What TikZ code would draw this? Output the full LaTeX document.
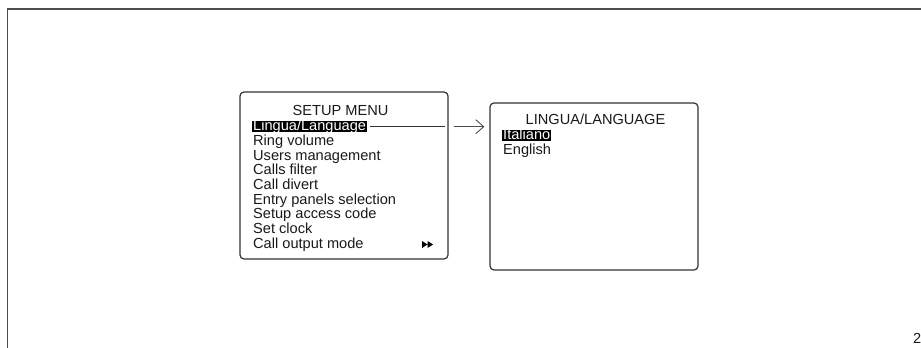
\documentclass[tikz,border=0pt]{standalone}
\usepackage{fontspec}
\setmainfont{Liberation Sans}
\usetikzlibrary{matrix,arrows.meta}

\tikzset{
  panel/.style={draw=black!80,line width=1.2pt,rounded corners=4pt,minimum width=208pt,minimum height=167pt,inner sep=0pt},
  lcd/.style={font=\fontsize{14.6pt}{14.7pt}\selectfont,text=black!90},
  item/.style={lcd,anchor=west,inner xsep=1pt,inner ysep=0pt,text height=9.5pt,text depth=1.5pt},
  picked/.style={fill=black,text=white}
}

\begin{document}
\begin{tikzpicture}[x=1pt,y=-1pt]
  \useasboundingbox (0,0) rectangle (921,348);
  % page frame
  \draw[black!70,line width=1.5pt] (921,9) -- (7.5,9) -- (7.5,348);
  \node[lcd,anchor=base west,inner sep=0pt] (page) at (913,343) {2};

  \node[panel] (setupbox) at (344,175.5) {};
  \node[panel] (langbox) at (594,186.5) {};

  \node[lcd,anchor=base,inner sep=0pt] (setuptitle) at (340.5,115.5) {SETUP MENU};
  \matrix (menu) [matrix of nodes,anchor=north west,inner sep=0pt,row sep=3.7pt,nodes={item}] at (252,121) {
    |[picked]| Lingua/Language \\
    Ring volume \\
    Users management \\
    Calls filter \\
    Call divert \\
    Entry panels selection \\
    Setup access code \\
    Set clock \\
    Call output mode \\};
  \fill[black] (422,241) -- (427.5,244.5) -- (422,248) -- cycle
               (427.5,241) -- (433,244.5) -- (427.5,248) -- cycle;

  \node[lcd,anchor=base,inner sep=0pt] (langtitle) at (595.5,124) {LINGUA/LANGUAGE};
  \matrix (lang) [matrix of nodes,anchor=north west,inner sep=0pt,row sep=3.5pt,nodes={item}] at (502,130) {
    |[picked]| Italiano \\
    English \\};

  \draw[black!80,line width=0.9pt] ([xshift=3pt]menu-1-1.east) -- ([xshift=-4pt]setupbox.east |- menu-1-1.east);
  \draw[-{Straight Barb[length=8pt,width=14pt]},black!70,line width=0.9pt]
    ([xshift=5pt]setupbox.east |- menu-1-1.east) -- ([xshift=-5pt]langbox.west |- menu-1-1.east);
\end{tikzpicture}
\end{document}
